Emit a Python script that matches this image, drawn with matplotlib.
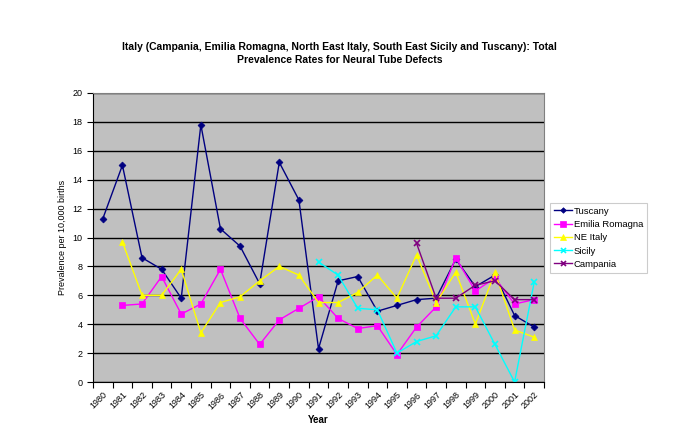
import numpy as np
import matplotlib.pyplot as plt

years = list(range(1980, 2003))

tuscany = [11.3, 15.0, 8.6, 7.8, 5.8, 17.8, 10.6, 9.4, 6.8, 15.2, 12.6, 2.3,
           7.0, 7.3, 4.9, 5.3, 5.7, 5.8, 8.5, 6.6, 7.4, 4.6, 3.8]
emilia = [np.nan, 5.3, 5.4, 7.3, 4.7, 5.4, 7.8, 4.4, 2.6, 4.3, 5.1, 5.9,
          4.4, 3.7, 3.9, 1.9, 3.8, 5.2, 8.6, 6.3, 7.2, 5.4, 5.7]
ne_italy = [np.nan, 9.7, 6.0, 6.0, 7.8, 3.4, 5.5, 5.9, 7.0, 8.0, 7.4, 5.5,
            5.5, 6.2, 7.4, 5.8, 8.8, 5.5, 7.6, 4.0, 7.6, 3.6, 3.1]
sicily = [np.nan] * 11 + [8.3, 7.4, 5.1, 5.0, 2.0, 2.8, 3.2, 5.2, 5.2, 2.6, 0.0, 6.9]
campania = [np.nan] * 16 + [9.6, 5.8, 5.8, 6.7, 7.0, 5.7, 5.7]

series = [
    ("Tuscany", tuscany, "#000080", "D", 3.5),
    ("Emilia Romagna", emilia, "#FF00FF", "s", 5),
    ("NE Italy", ne_italy, "#FFFF00", "^", 5),
    ("Sicily", sicily, "#00FFFF", "x", 4.5),
    ("Campania", campania, "#800080", "x", 4.5),
]

plt.rcParams["font.family"] = ["Liberation Sans", "DejaVu Sans"]

fig = plt.figure(figsize=(6.86, 4.37), dpi=100)
ax = fig.add_axes([93 / 686, 1 - 382 / 437, 451 / 686, 289 / 437])
ax.set_facecolor("#C0C0C0")

x = np.arange(len(years))
for name, vals, col, mk, ms in series:
    ax.plot(x, vals, color=col, marker=mk, markersize=ms, linewidth=1,
            markeredgewidth=1.2 if mk == "x" else 0.5, label=name)

ax.set_xlim(-0.5, len(years) - 0.5)
ax.set_ylim(0, 20)
ax.set_yticks(range(0, 21, 2))
ax.yaxis.grid(True, color="black", linewidth=1)
ax.set_axisbelow(True)

ax.set_xticks(x)
ax.set_xticklabels([str(y) for y in years], rotation=45, ha="right",
                   rotation_mode="anchor", fontsize=6.5)
ax.tick_params(axis="x", which="major", length=0, pad=6)
ax.set_xticks(np.arange(-0.5, len(years)), minor=True)
ax.tick_params(axis="x", which="minor", length=4, width=0.8, direction="out")
ax.tick_params(axis="y", labelsize=6.5, length=4, width=0.8)

for s in ("top", "right"):
    ax.spines[s].set_color("#808080")
for s in ("left", "bottom"):
    ax.spines[s].set_color("black")

ax.set_ylabel("Prevalence per 10,000 births", fontsize=6.5)
ax.set_xlabel("Year", fontsize=7, fontweight="bold", labelpad=3)

fig.text(0.495, 0.878, "Italy (Campania, Emilia Romagna, North East Italy, South East Sicily and Tuscany): Total\n"
         "Prevalence Rates for Neural Tube Defects",
         ha="center", va="center", fontsize=7.5, fontweight="bold", linespacing=1.45)

leg = ax.legend(loc="upper left", bbox_to_anchor=(550 / 686, 1 - 203 / 437),
                bbox_transform=fig.transFigure, fontsize=6.8, frameon=True,
                fancybox=False, edgecolor="#C0C0C0", handlelength=1.9,
                labelspacing=0.45, borderpad=0.4, handletextpad=0.2,
                borderaxespad=0, markerscale=0.8)
leg.get_frame().set_linewidth(0.8)

fig.savefig("out.png", dpi=100)
